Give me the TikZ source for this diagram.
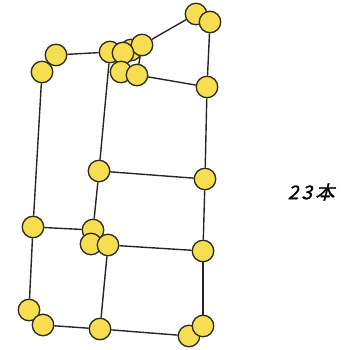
\documentclass[tikz,border=0pt]{standalone}
\usepackage{fontspec}
\newfontfamily\cjk[FakeSlant=0.25,FakeBold=1.2]{Noto Sans CJK JP}
\usetikzlibrary{backgrounds}
\definecolor{ball}{RGB}{246,222,80}
\definecolor{rim}{RGB}{45,42,30}
\tikzset{
  ball/.style={circle,draw=rim,line width=1.3pt,fill=ball,minimum size=21.5pt,inner sep=0pt},
  edge/.style={line width=1.4pt,draw=black!85}
}
\begin{document}
\begin{tikzpicture}[x=1pt,y=-1pt]
\useasboundingbox (0,0) rectangle (357,350);
\node[ball] (A) at (196,14) {};
\node[ball] (B) at (210,22) {};
\node[ball] (C) at (56,55) {};
\node[ball] (D) at (42,72) {};
\node[ball] (E) at (110,52) {};
\node[ball] (G) at (131,50) {};
\node[ball] (H) at (142,45) {};
\node[ball] (F) at (123,53) {};
\node[ball] (I) at (121,72) {};
\node[ball] (J) at (137,75) {};
\node[ball] (K) at (207,87) {};
\node[ball] (L) at (99,171) {};
\node[ball] (M) at (205,179) {};
\node[ball] (N) at (33,227) {};
\node[ball] (O) at (93,230) {};
\node[ball] (P) at (91,244) {};
\node[ball] (Q) at (108,245) {};
\node[ball] (R) at (203,251) {};
\node[ball] (S) at (29,310) {};
\node[ball] (T) at (43,325) {};
\node[ball] (U) at (100,329) {};
\node[ball] (W) at (189,336) {};
\node[ball] (V) at (203,326) {};
\node (txt) at (311,192) {\cjk\fontsize{19}{19}\selectfont 2\,3\,本};
\begin{scope}[on background layer]
\draw[edge] (A) -- (H);
\draw[edge] (B) -- (K);
\draw[edge] (C) -- (E);
\draw[edge] (D) -- (N);
\draw[edge] (E) -- (L);
\draw[edge] (H) -- (J);
\draw[edge] (J) -- (K);
\draw[edge] (K) -- (M);
\draw[edge] (L) -- (M);
\draw[edge] (L) -- (O);
\draw[edge] (N) -- (O);
\draw[edge] (Q) -- (R);
\draw[edge] (M) -- (R);
\draw[edge] (N) -- (S);
\draw[edge] (Q) -- (U);
\draw[edge] (T) -- (U);
\draw[edge] (U) -- (W);
\draw[edge] (R) -- (V);
\end{scope}
\end{tikzpicture}
\end{document}
